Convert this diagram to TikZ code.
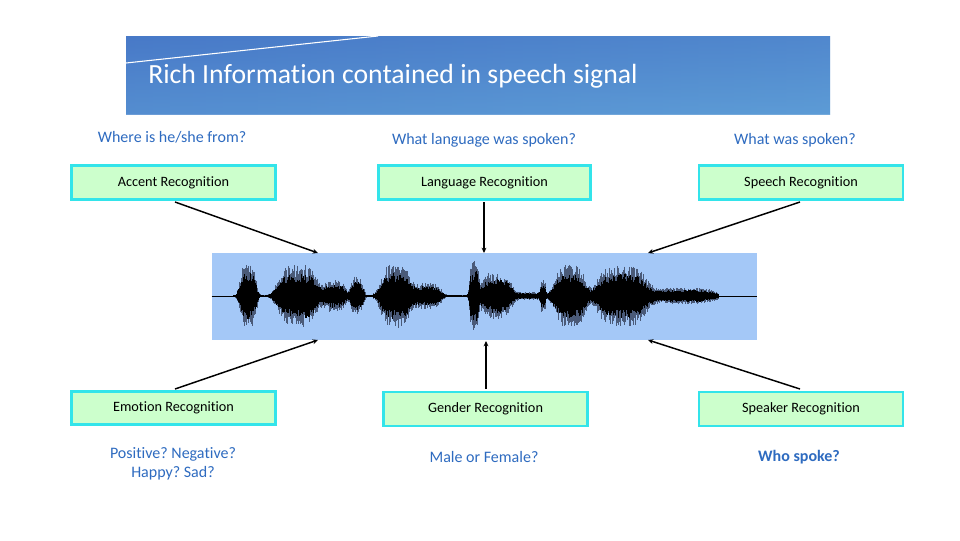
\documentclass[tikz,border=0pt]{standalone}
\usepackage{fontspec}
\setmainfont[Ligatures={NoCommon}]{Carlito}
\frenchspacing
\usetikzlibrary{arrows.meta}
\definecolor{qblue}{HTML}{2E6BC0}
\definecolor{boxfill}{HTML}{CCFFCC}
\definecolor{boxline}{HTML}{33E4EA}
\definecolor{wavebg}{HTML}{A4C8F7}
\definecolor{wavegray}{HTML}{4A5A78}
\definecolor{titleA}{HTML}{4574C6}
\definecolor{titleB}{HTML}{5D9CD6}
\pgfmathdeclarefunction{bump}{4}{%
  \begingroup
  \pgfmathparse{#4*exp(-pow(min(abs((#1-#2)/#3),2),4))}%
  \pgfmathsmuggle\pgfmathresult
  \endgroup}
\tikzset{
  recbox/.style={draw=boxline, line width=2.2pt, fill=boxfill, minimum width=153pt, minimum height=25.5pt, inner sep=0pt, font=\fontsize{10.7}{12}\selectfont},
  question/.style={text=qblue, font=\fontsize{12}{14.5}\selectfont, align=center, inner sep=0pt},
  arr/.style={line width=1.1pt, -{Stealth[length=4pt,width=3.6pt]}},
}
\begin{document}
\begin{tikzpicture}[x=0.75pt,y=-0.75pt]
\useasboundingbox (0,0) rectangle (960,540);
\fill[white] (0,0) rectangle (960,540);
% title banner
\fill[titleB] (126,36) rectangle (830,114);
\shade[left color=titleA, right color=titleB, opacity=0.7] (126,36) rectangle (830,114);
\shade[top color=titleA, bottom color=titleB, opacity=0.5] (126,36) rectangle (830,114);
\draw[white, line width=0.8pt] (126,63) -- (378,36);
\node[anchor=base west, text=white, font=\fontsize{20.8}{24}\selectfont, inner sep=0pt] (title) at (148,83) {Rich Information contained in speech signal};
% questions
\node[question] (q1) at (172,137) {Where is he/she from?};
\node[question] (q2) at (484,140) {What language was spoken?};
\node[question] (q3) at (795,140) {What was spoken?};
\node[question] (q4) at (173,464) {Positive? Negative?\\Happy? Sad?};
\node[question] (q5) at (484,457) {Male or Female?};
\node[question, font=\fontsize{12}{14.5}\selectfont\bfseries] (q6) at (799,457) {Who spoke?};
% boxes
\node[recbox] (acc) at (173.5,182.5) {Accent Recognition};
\node[recbox, minimum width=159pt] (lang) at (484.5,182.5) {Language Recognition};
\node[recbox] (sp) at (801,182.5) {Speech Recognition};
\node[recbox, minimum height=24.75pt] (emo) at (173.5,408) {Emotion Recognition};
\node[recbox] (gen) at (485.5,409) {Gender Recognition};
\node[recbox] (spk) at (801,409) {Speaker Recognition};
% waveform
\node[fill=wavebg, minimum width=408.75pt, minimum height=65.25pt, inner sep=0pt] (wave) at (484.5,296.5) {};
\pgfmathsetseed{11}
\foreach \x in {233,233.8,...,719}{
  \pgfmathsetmacro\env{0.8+bump(\x,248,9,26)+bump(\x,298,22,24)+bump(\x,335,12,12)+bump(\x,357,7,15)+bump(\x,396,17,25)+bump(\x,428,14,10)+bump(\x,474,5,27)+bump(\x,496,17,18)+bump(\x,532,18,2.5)+bump(\x,543,3,10)+bump(\x,570,17,24)+bump(\x,622,27,24)+bump(\x,684,34,6)}
  \pgfmathsetmacro\ga{\env*(0.75+0.5*rnd)}
  \pgfmathsetmacro\gb{\env*(0.75+0.5*rnd)}
  \draw[wavegray, line width=0.55pt] (\x,296-\ga) -- (\x,296+\gb);
  \pgfmathsetmacro\ba{\env*(0.55+0.35*rnd)}
  \pgfmathsetmacro\bb{\env*(0.55+0.35*rnd)}
  \draw[black, line width=0.7pt] (\x,296-\ba) -- (\x,296+\bb);
}
\draw[black, line width=0.6pt] (wave.west |- 0,296) -- (wave.east |- 0,296);
% connector end points on the waveform
\coordinate (w1) at (318,253);
\coordinate (w2) at (484,253);
\coordinate (w3) at (648,253);
\coordinate (w4) at (318,340);
\coordinate (w5) at (486,341);
\coordinate (w6) at (648,340);
\coordinate (a1) at (175,202);
\coordinate (a2) at (484,202);
\coordinate (a3) at (800,202);
\coordinate (a4) at (175,389);
\coordinate (a5) at (486,389);
\coordinate (a6) at (800,389);
\draw[arr] (a1) -- (w1);
\draw[arr] (a2) -- (w2);
\draw[arr] (a3) -- (w3);
\draw[arr] (a4) -- (w4);
\draw[arr] (a5) -- (w5);
\draw[arr] (a6) -- (w6);
\end{tikzpicture}
\end{document}
